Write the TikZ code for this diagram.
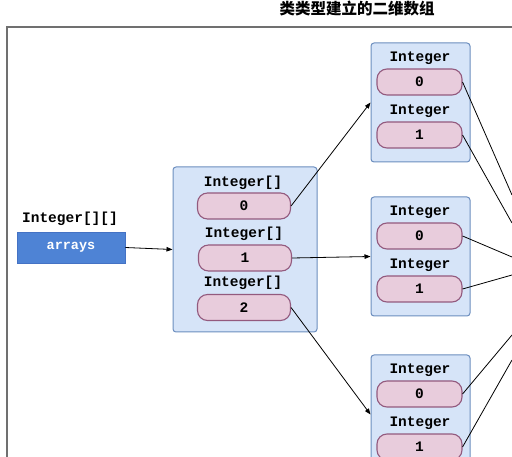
\documentclass[tikz,border=0pt]{standalone}
\usepackage{fontspec}
\setmonofont{Liberation Mono}
\newfontfamily\cjk{Noto Sans CJK SC}
\usetikzlibrary{arrows.meta}
\definecolor{frameGray}{HTML}{707070}
\definecolor{contFill}{HTML}{D6E4F8}
\definecolor{contDraw}{HTML}{6C8EBF}
\definecolor{cellFill}{HTML}{E8CCDC}
\definecolor{cellDraw}{HTML}{935A7E}
\definecolor{refFill}{HTML}{4E83D5}
\definecolor{refDraw}{HTML}{4472C4}
\tikzset{
  container/.style={draw=contDraw, fill=contFill, rounded corners=3pt, line width=1pt, inner sep=0pt},
  cell/.style={draw=cellDraw, fill=cellFill, rounded corners=10pt, line width=1.1pt, inner sep=0pt,
    font=\fontsize{14.5}{15}\ttfamily\bfseries},
  typelabel/.style={inner sep=0pt, font=\fontsize{14.5}{15}\ttfamily\bfseries},
  refbox/.style={draw=refDraw, fill=refFill, line width=0.6pt, inner sep=0pt, text=white,
    font=\fontsize{13.5}{14}\ttfamily\bfseries},
  link/.style={line width=0.8pt, -{Triangle[length=6pt,width=4.5pt]}},
  outline/.style={line width=0.8pt}
}
\begin{document}
\begin{tikzpicture}[x=1pt,y=-1pt]
\clip (0,0) rectangle (512,457);
\fill[white] (0,0) rectangle (512,457);
% title
\node[inner sep=0pt, font=\fontsize{15.5}{16}\cjk\bfseries] (title) at (357,9) {类类型建立的二维数组};
% frame
\draw[frameGray, line width=1.8pt] (7,480) -- (7,27) -- (530,27);
% left reference
\node[typelabel] (reflabel) at (70,219) {Integer[][]};
\node[refbox, minimum width=108pt, minimum height=31pt] (arrays) at (71,247.5) {arrays};
% middle container
\node[container, minimum width=144pt, minimum height=165pt] (mid) at (245,249.5) {};
\node[typelabel] (ml0) at (243,183) {Integer[]};
\node[cell, minimum width=93pt, minimum height=26pt] (m0) at (244,206) {0};
\node[typelabel] (ml1) at (244,234) {Integer[]};
\node[cell, minimum width=93pt, minimum height=26pt] (m1) at (245,258) {1};
\node[typelabel] (ml2) at (243,283) {Integer[]};
\node[cell, minimum width=93pt, minimum height=26pt] (m2) at (244,307.5) {2};
% right containers
\foreach \n/\t in {a/43,b/197,c/355}{
  \node[container, minimum width=99pt, minimum height=119pt] (r\n) at (420.5,\t+59.5) {};
  \node[typelabel] (r\n l0) at (420,\t+15) {Integer};
  \node[cell, minimum width=85pt, minimum height=26pt] (r\n0) at (419.5,\t+39) {0};
  \node[typelabel] (r\n l1) at (420,\t+68) {Integer};
  \node[cell, minimum width=85pt, minimum height=26pt] (r\n1) at (419.5,\t+92) {1};
}
% arrows
\draw[link] (arrays.east) -- (mid.west);
\draw[link] (m0.east) -- (ra.west);
\draw[link] (m1.east) -- (rb.west);
\draw[link] (m2.east) -- (rc.west);
% off-picture targets
\coordinate (ta) at (512,195);
\coordinate (tb) at (512,223);
\coordinate (tc) at (512,257);
\coordinate (td) at (512,275);
\coordinate (te) at (512,335);
\coordinate (tf) at (512,360);
\draw[outline] (ra0.east) -- (ta);
\draw[outline] (ra1.east) -- (tb);
\draw[outline] (rb0.east) -- (tc);
\draw[outline] (rb1.east) -- (td);
\draw[outline] (rc0.east) -- (te);
\draw[outline] (rc1.east) -- (tf);
\end{tikzpicture}
\end{document}
